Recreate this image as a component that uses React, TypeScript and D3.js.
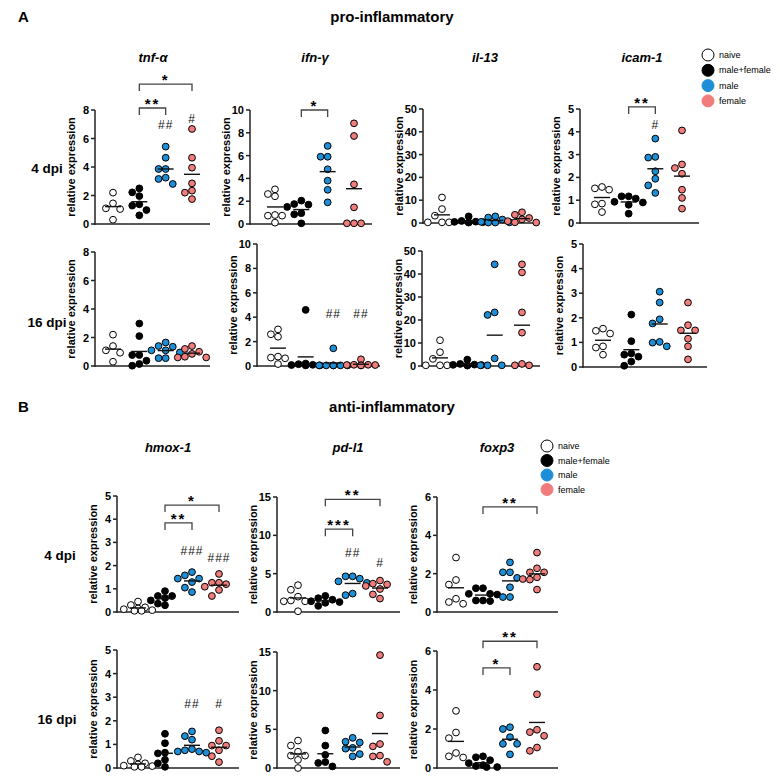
import React from "react";
import * as d3 from "d3";

const groups = ["naive", "male+female", "male", "female"];
const groupColors = ["#ffffff", "#000000", "#1e8fd6", "#f17c7c"];

// pro-inflammatory, 4 dpi
const tnf4 = [
  [2.2, 1.45, 1.1, 1.05, 0.3],
  [2.22, 2.5, 1.96, 1.29, 1.38, 0.98, 0.61],
  [5.43, 4.65, 3.86, 3.86, 3.25, 3.16, 2.81],
  [6.67, 4.65, 3.95, 2.85, 2.34, 2.2, 1.75],
];
const ifn4 = [
  [3.04, 2.63, 2.43, 0.79, 0.73, 0.73, 0.12],
  [2.05, 1.75, 1.7, 1.5, 0.95, 0.85, 0.06],
  [6.85, 5.9, 5.9, 4.8, 3.8, 3.0, 1.9],
  [8.83, 7.72, 3.48, 1.46, 0.06, 0.06, 0.06],
];
const il13_4 = [
  [11.2, 6.1, 3.2, 0.3, 0.3, 0.3],
  [2.9, 0.9, 0.6, 0.5, 0.4, 0.3, 0.2],
  [2.9, 2.4, 1.5, 0.5, 0.3, 0.2, 0.2],
  [4.7, 3.6, 2.2, 1.6, 0.8, 0.3, 0.2],
];
const icam4 = [
  [1.58, 1.46, 1.52, 0.85, 0.82, 0.48],
  [1.17, 1.17, 1.07, 0.93, 0.9, 0.8, 0.41],
  [3.7, 2.87, 2.9, 2.27, 1.94, 1.65, 1.32],
  [4.06, 2.41, 2.57, 2.16, 1.46, 1.1, 0.63],
];

// pro-inflammatory, 16 dpi
const tnf16 = [
  [2.2, 1.4, 1.1, 0.93, 0.3],
  [2.98, 2.1, 0.77, 0.77, 0.37, 0.14, 0.02],
  [1.65, 1.4, 1.35, 1.1, 1.1, 0.95, 0.55, 0.55],
  [1.4, 1.2, 1.0, 0.85, 0.65, 0.6, 0.6],
];
const ifn16 = [
  [3.0, 2.6, 2.4, 0.77, 0.63, 0.69, 0.16],
  [4.6, 0.2, 0.15, 0.1, 0.08, 0.05, 0.05],
  [1.45, 0.05, 0.05, 0.05, 0.05, 0.05, 0.05],
  [0.55, 0.1, 0.1, 0.08, 0.08, 0.05, 0.05],
];
const il13_16 = [
  [11.2, 6.0, 3.1, 0.3, 0.3, 0.3],
  [2.8, 0.9, 0.6, 0.5, 0.4, 0.3, 0.2],
  [44.2, 23.3, 22.2, 3.3, 0.3, 0.3, 0.3],
  [44.2, 40.7, 23.3, 14.5, 0.9, 0.3, 0.3],
];
const icam16 = [
  [1.56, 1.36, 1.47, 0.84, 0.79, 0.5],
  [2.13, 1.05, 0.5, 0.42, 0.55, 0.22, 0.05],
  [3.06, 2.62, 1.94, 1.77, 1.02, 0.99, 0.84],
  [2.62, 1.7, 1.49, 1.49, 1.15, 0.84, 0.31],
];

// anti-inflammatory, 4 dpi
const hmox4 = [
  [0.45, 0.3, 0.2, 0.15, 0.12, 0.08, 0.05, 0.05],
  [0.9, 0.69, 0.69, 0.6, 0.5, 0.36, 0.29],
  [1.72, 1.58, 1.44, 1.44, 1.29, 1.05, 0.86],
  [1.64, 1.26, 1.26, 1.2, 1.09, 0.95, 0.69],
];
const pdl1_4 = [
  [3.5, 2.9, 2.0, 1.5, 1.4, 1.4, 0.1],
  [2.1, 1.8, 1.6, 1.4, 1.3, 1.2, 0.8],
  [4.65, 4.65, 4.35, 4.0, 3.8, 2.4, 2.2],
  [4.1, 3.7, 3.6, 3.4, 3.0, 2.3, 1.75],
];
const foxp3_4 = [
  [2.84, 1.67, 1.43, 0.69, 0.52, 0.43],
  [1.24, 1.24, 0.95, 0.95, 0.91, 0.6, 0.6, 0.57],
  [2.59, 2.07, 2.07, 1.78, 1.29, 0.78, 0.78],
  [3.1, 2.28, 2.07, 2.07, 1.81, 1.72, 1.69, 1.17],
];

// anti-inflammatory, 16 dpi
const hmox16 = [
  [0.45, 0.3, 0.2, 0.15, 0.1, 0.08, 0.05, 0.05],
  [1.45, 1.05, 0.65, 0.62, 0.35, 0.2, 0.05],
  [1.55, 1.35, 1.2, 0.8, 0.75, 0.7, 0.7, 0.65],
  [1.6, 1.15, 0.95, 0.95, 0.75, 0.5, 0.25],
];
const pdl1_16 = [
  [3.55, 2.9, 2.1, 1.6, 1.6, 1.05, 0.0],
  [4.85, 2.9, 1.7, 0.77, 0.65, 0.2],
  [3.9, 3.4, 3.3, 2.6, 2.5, 1.8, 1.5],
  [14.6, 6.8, 3.1, 2.8, 1.6, 1.5, 0.8],
];
const foxp3_16 = [
  [2.93, 1.82, 1.53, 0.77, 0.6, 0.54],
  [0.6, 0.55, 0.4, 0.25, 0.15, 0.1, 0.05, 0.05],
  [2.09, 2.0, 1.58, 1.24, 1.24, 0.7],
  [5.19, 3.78, 1.96, 1.84, 1.65, 1.05, 0.88],
];

type Bracket = { a: number; b: number; at: number; label: string };
type Mark = { g: number; at: number; label: string };
type Panel = {
  data: number[][];
  title?: string;
  titleX?: number;
  titleY?: number;
  yMax: number;
  step: number;
  ax: number;
  xEnd: number;
  y0: number;
  yTop: number;
  pad: number;
  span: number;
  brackets?: Bracket[];
  marks?: Mark[];
};

const panels: Panel[] = [
  { data: tnf4, title: "tnf-α", titleX: 153, titleY: 62, yMax: 8, step: 2, ax: 95, xEnd: 210, y0: 224, yTop: 110, pad: 18, span: 79,
    brackets: [{ a: 1, b: 2, at: 8.14, label: "**" }, { a: 1, b: 3, at: 9.82, label: "*" }],
    marks: [{ g: 2, at: 6.95, label: "##" }, { g: 3, at: 7.37, label: "#" }] },
  { data: ifn4, title: "ifn-γ", titleX: 315, titleY: 62, yMax: 10, step: 2, ax: 250, xEnd: 372, y0: 224, yTop: 110, pad: 25, span: 79,
    brackets: [{ a: 1, b: 2, at: 10.0, label: "*" }] },
  { data: il13_4, title: "il-13", titleX: 485, titleY: 62, yMax: 50, step: 10, ax: 423, xEnd: 540, y0: 223, yTop: 109, pad: 19, span: 80 },
  { data: icam4, title: "icam-1", titleX: 642, titleY: 62, yMax: 5, step: 1, ax: 580, xEnd: 699, y0: 223, yTop: 109, pad: 22, span: 80,
    brackets: [{ a: 1, b: 2, at: 5.09, label: "**" }],
    marks: [{ g: 2, at: 4.3, label: "#" }] },

  { data: tnf16, yMax: 8, step: 2, ax: 95, xEnd: 210, y0: 366, yTop: 252, pad: 18, span: 79 },
  { data: ifn16, yMax: 10, step: 2, ax: 257, xEnd: 380, y0: 366, yTop: 244, pad: 21, span: 83,
    marks: [{ g: 2, at: 4.34, label: "##" }, { g: 3, at: 4.34, label: "##" }] },
  { data: il13_16, yMax: 50, step: 10, ax: 422, xEnd: 540, y0: 366, yTop: 251, pad: 18, span: 82 },
  { data: icam16, yMax: 5, step: 1, ax: 583, xEnd: 707, y0: 367, yTop: 244, pad: 20, span: 85 },

  { data: hmox4, title: "hmox-1", titleX: 168, titleY: 452, yMax: 5, step: 1, ax: 117, xEnd: 239, y0: 612, yTop: 496, pad: 21, span: 81,
    brackets: [{ a: 1, b: 3, at: 4.61, label: "*" }, { a: 1, b: 2, at: 3.84, label: "**" }],
    marks: [{ g: 2, at: 2.67, label: "###" }, { g: 3, at: 2.37, label: "###" }] },
  { data: pdl1_4, title: "pd-l1", titleX: 348, titleY: 452, yMax: 15, step: 5, ax: 277, xEnd: 400, y0: 612, yTop: 497, pad: 21, span: 82,
    brackets: [{ a: 1, b: 3, at: 14.7, label: "**" }, { a: 1, b: 2, at: 10.8, label: "***" }],
    marks: [{ g: 2, at: 7.7, label: "##" }, { g: 3, at: 6.4, label: "#" }] },
  { data: foxp3_4, title: "foxp3", titleX: 497, titleY: 452, yMax: 6, step: 2, ax: 437, xEnd: 558, y0: 612, yTop: 497, pad: 19, span: 81,
    brackets: [{ a: 1, b: 3, at: 5.48, label: "**" }] },

  { data: hmox16, yMax: 5, step: 1, ax: 117, xEnd: 239, y0: 768, yTop: 650, pad: 21, span: 81,
    marks: [{ g: 2, at: 2.75, label: "##" }, { g: 3, at: 2.75, label: "#" }] },
  { data: pdl1_16, yMax: 15, step: 5, ax: 277, xEnd: 400, y0: 768, yTop: 652, pad: 21, span: 82 },
  { data: foxp3_16, yMax: 6, step: 2, ax: 437, xEnd: 558, y0: 768, yTop: 651, pad: 19, span: 81,
    brackets: [{ a: 1, b: 3, at: 6.5, label: "**" }, { a: 1, b: 2, at: 5.13, label: "*" }] },
];

const rowLabels = [
  { text: "4 dpi", x: 47, y: 173 },
  { text: "16 dpi", x: 47, y: 327 },
  { text: "4 dpi", x: 60, y: 560 },
  { text: "16 dpi", x: 57, y: 724 },
];

const legends = [
  { x: 708, y: 55, dy: 15.3 },
  { x: 547, y: 446, dy: 14.5 },
];

const FONT = "'Liberation Sans', Arial, Helvetica, sans-serif";
const R = 3.4;

// simple beeswarm: highest values first, shift sideways on collision,
// allow partial overlap when a group is crowded near one value
function swarm(vals: number[], y: (v: number) => number) {
  const placed: { dx: number; y: number }[] = [];
  const d = 2 * R + 0.3;
  const cands = [0, -1, 1, -2, 2];
  [...vals].sort((a, b) => b - a).forEach((v) => {
    const py = y(v);
    const dist = (px: number) =>
      placed.length ? d3.min(placed, (p) => Math.hypot(p.dx - px, p.y - py))! : Infinity;
    let pick = cands.map((c) => c * d).find((px) => dist(px) >= d - 0.2);
    if (pick === undefined) {
      pick = [0, -0.5, 0.5, -1, 1, -1.5, 1.5].map((c) => c * d).find((px) => dist(px) >= 0.55 * d);
    }
    if (pick === undefined) pick = 0;
    placed.push({ dx: pick, y: py });
  });
  return placed;
}

function PanelView({ p }: { p: Panel }) {
  const y = d3.scaleLinear().domain([0, p.yMax]).range([p.y0, p.yTop]);
  const x = d3.scalePoint<number>().domain([0, 1, 2, 3]).range([p.ax + p.pad, p.ax + p.pad + p.span]);
  const ticks = d3.range(0, p.yMax + p.step / 2, p.step);
  return (
    <g>
      {p.title && (
        <text x={p.titleX} y={p.titleY} textAnchor="middle" fontSize={13} fontWeight="bold" fontStyle="italic">{p.title}</text>
      )}
      <text transform={`translate(${p.ax - 20},${(p.y0 + p.yTop) / 2}) rotate(-90)`} textAnchor="middle" fontSize={11} fontWeight="bold">
        relative expression
      </text>
      <line x1={p.ax} x2={p.ax} y1={p.yTop} y2={p.y0 + 0.75} stroke="#222" strokeWidth={1.5} />
      <line x1={p.ax - 0.75} x2={p.xEnd} y1={p.y0} y2={p.y0} stroke="#222" strokeWidth={1.5} />
      {ticks.map((t) => (
        <g key={t}>
          <line x1={p.ax - 4} x2={p.ax} y1={y(t)} y2={y(t)} stroke="#222" strokeWidth={1.5} />
          <text x={p.ax - 6} y={y(t) + 4} textAnchor="end" fontSize={11} fontWeight="bold">{t}</text>
        </g>
      ))}
      {p.data.map((vals, gi) => {
        const cx = x(gi)!;
        const mean = d3.mean(vals)!;
        return (
          <g key={gi}>
            {swarm(vals, y).map((pt, i) => (
              <circle key={i} cx={cx + pt.dx} cy={pt.y} r={R} fill={groupColors[gi]} stroke="#000" strokeWidth={1} />
            ))}
            <line x1={cx - 8} x2={cx + 8} y1={y(mean)} y2={y(mean)} stroke="#111" strokeWidth={1.4} />
          </g>
        );
      })}
      {(p.brackets || []).map((b, i) => {
        const xa = x(b.a)!, xb = x(b.b)!, yy = y(b.at);
        return (
          <g key={i}>
            <path d={`M${xa},${yy + 7}V${yy}H${xb}V${yy + 7}`} fill="none" stroke="#444" strokeWidth={1.3} />
            <text x={(xa + xb) / 2} y={yy + 1} textAnchor="middle" fontSize={15} fontWeight="bold" letterSpacing={2}>{b.label}</text>
          </g>
        );
      })}
      {(p.marks || []).map((m, i) => (
        <text key={i} x={x(m.g)!} y={y(m.at) + 4.5} textAnchor="middle" fontSize={12} letterSpacing={1} fill="#111">{m.label}</text>
      ))}
    </g>
  );
}

export default function App() {
  return (
    <svg width={780} height={782} style={{ position: "absolute", left: 0, top: 0, background: "#fff" }} fontFamily={FONT}>
      <text x={18} y={22} fontSize={15} fontWeight="bold">A</text>
      <text x={392} y={22} textAnchor="middle" fontSize={15} fontWeight="bold">pro-inflammatory</text>
      <text x={18} y={412} fontSize={15} fontWeight="bold">B</text>
      <text x={392} y={412} textAnchor="middle" fontSize={15} fontWeight="bold">anti-inflammatory</text>
      {rowLabels.map((r, i) => (
        <text key={i} x={r.x} y={r.y} textAnchor="middle" fontSize={13.5} fontWeight="bold">{r.text}</text>
      ))}
      {panels.map((p, i) => <PanelView key={i} p={p} />)}
      {legends.map((l, li) => (
        <g key={li}>
          {groups.map((g, i) => (
            <g key={g}>
              <circle cx={l.x} cy={l.y + i * l.dy} r={6} fill={groupColors[i]} stroke={i === 0 ? "#000" : groupColors[i]} strokeWidth={1} />
              <text x={l.x + 11} y={l.y + i * l.dy + 3} fontSize={9}>{g}</text>
            </g>
          ))}
        </g>
      ))}
    </svg>
  );
}
